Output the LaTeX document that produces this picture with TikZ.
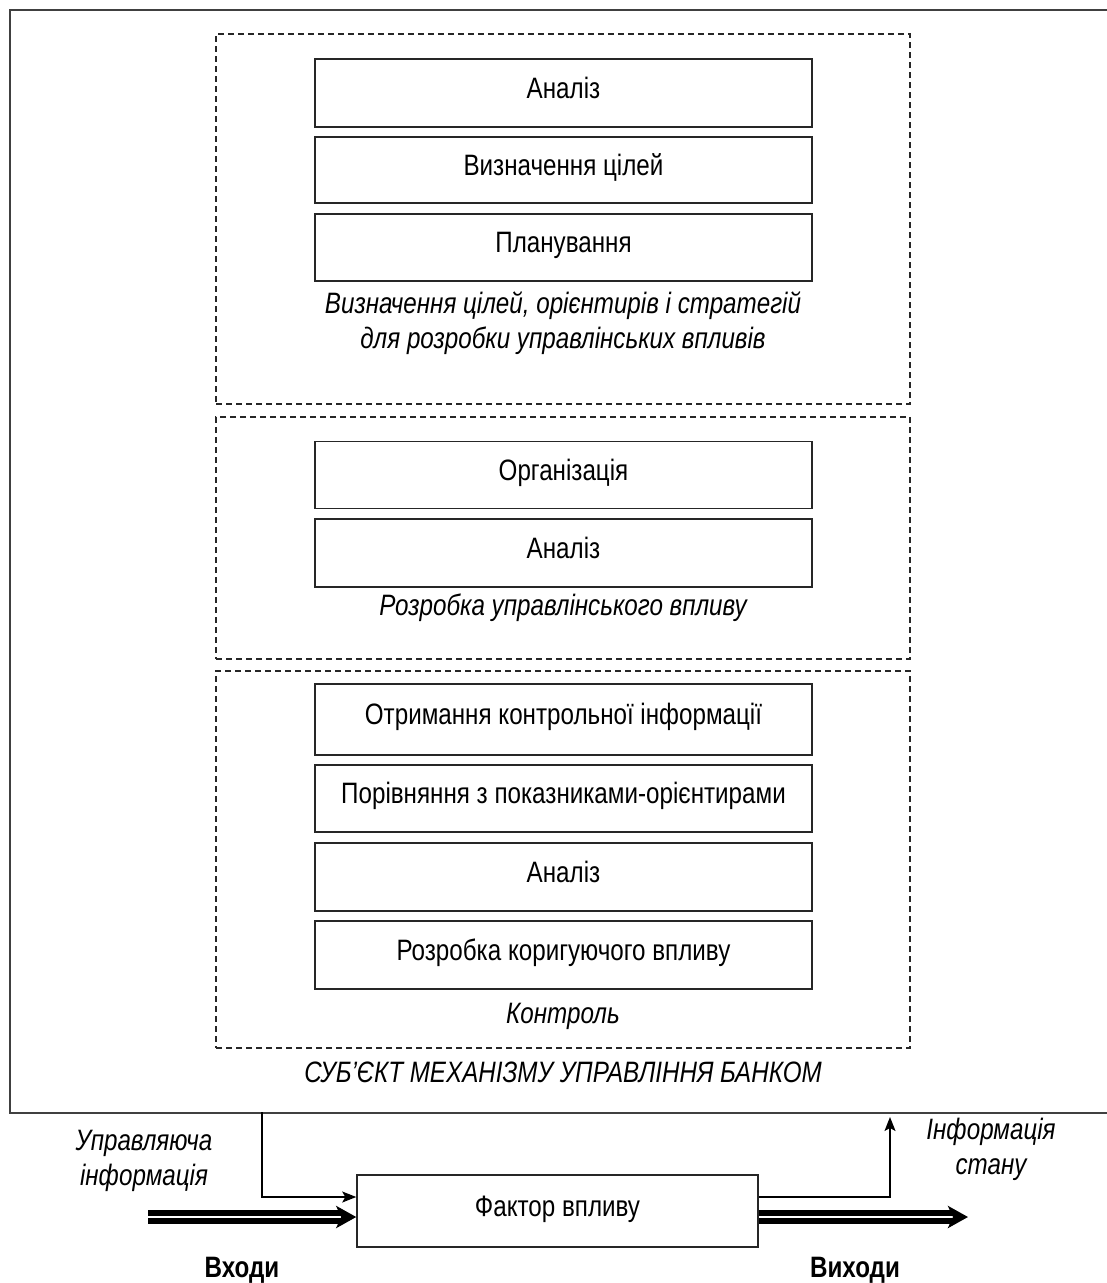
\documentclass[tikz,border=0pt]{standalone}
\usepackage{fontspec}
\setmainfont{Liberation Sans}[FakeStretch=0.82]
\usetikzlibrary{arrows.meta}
\tikzset{
  txt/.style={font=\fontsize{29.5}{35}\selectfont, inner sep=0pt},
  itxt/.style={txt, font=\fontsize{29.5}{35}\selectfont\itshape, align=center},
  btxt/.style={txt, font=\fontsize{29.5}{35}\selectfont\bfseries},
  stepbox/.style={draw=black!85, line width=1.5pt, minimum width=497pt, minimum height=68pt,
    inner sep=0pt, text height=21pt, text depth=11pt, font=\fontsize{29.5}{35}\selectfont},
  group/.style={draw=black!85, dashed, dash pattern=on 6pt off 4pt, line width=1.4pt,
    minimum width=694pt, inner sep=0pt},
  frame/.style={draw=black!75, line width=2pt, inner sep=0pt, anchor=north west},
  arr/.style={draw=black, line width=1.3pt, -{Stealth[length=14pt, width=11pt, inset=3pt]}},
  dbl/.style={draw=black, line width=6pt, double=white, double distance=2pt,
    -{Stealth[length=20pt, width=22pt, inset=5pt]}}
}
\begin{document}
\begin{tikzpicture}[x=1pt, y=-1pt]
\useasboundingbox[fill=white] (0,0) rectangle (1107,1283);

% outer frame of the bank management subject (right edge runs off the page)
\node[frame, minimum width=1105pt, minimum height=1103pt] (subj) at (9,9) {};

% three dashed groups
\node[group, minimum height=370pt] (g1) at (563,219) {};
\node[group, minimum height=242pt] (g2) at (563,538) {};
\node[group, minimum height=377pt] (g3) at (563,859.5) {};

% group 1
\node[stepbox] (a1) at (563.5,93) {Аналіз};
\node[stepbox, minimum height=66pt] (a2) at (563.5,170) {Визначення цілей};
\node[stepbox, minimum height=67pt] (a3) at (563.5,247.5) {Планування};
\node[itxt] (c1) at (563,323.5) {Визначення цілей, орієнтирів і стратегій\\для розробки управлінських впливів};

% group 2
\node[stepbox, minimum height=67pt] (b1) at (563.5,475) {Організація};
\node[stepbox] (b2) at (563.5,553) {Аналіз};
\node[itxt] (c2) at (563,608) {Розробка управлінського впливу};

% group 3
\node[stepbox, minimum height=71pt] (k1) at (563.5,719.5) {Отримання контрольної інформації};
\node[stepbox, minimum height=67pt] (k2) at (563.5,798.5) {Порівняння з показниками-орієнтирами};
\node[stepbox] (k3) at (563.5,877) {Аналіз};
\node[stepbox] (k4) at (563.5,955) {Розробка коригуючого впливу};
\node[itxt] (c3) at (563,1016) {Контроль};

\node[itxt] (c0) at (563,1072) {СУБ’ЄКТ МЕХАНІЗМУ УПРАВЛІННЯ БАНКОМ};

% managed object
\node[stepbox, minimum width=401pt, minimum height=72pt] (fac) at (557.5,1211) {Фактор впливу};

% control information from the subject to the factor
\coordinate (ctl) at (262,1112);
\draw[arr] (ctl) |- ([yshift=14pt]fac.west);
% state information going back
\coordinate (st) at (890,1117);
\draw[arr] ([yshift=14pt]fac.east) -| (st);

% inputs and outputs
\coordinate (inS) at (148,1217);
\coordinate (outE) at (968,1217);
\draw[dbl] (inS) -- (inS -| fac.west);
\draw[dbl] (outE -| fac.east) -- (outE);

\node[itxt] (lin) at (144,1161) {Управляюча\\інформація};
\node[itxt] (lout) at (991,1149) {Інформація\\стану};
\node[btxt] (win) at (242,1270) {Входи};
\node[btxt] (wout) at (855,1270) {Виходи};
\end{tikzpicture}
\end{document}
